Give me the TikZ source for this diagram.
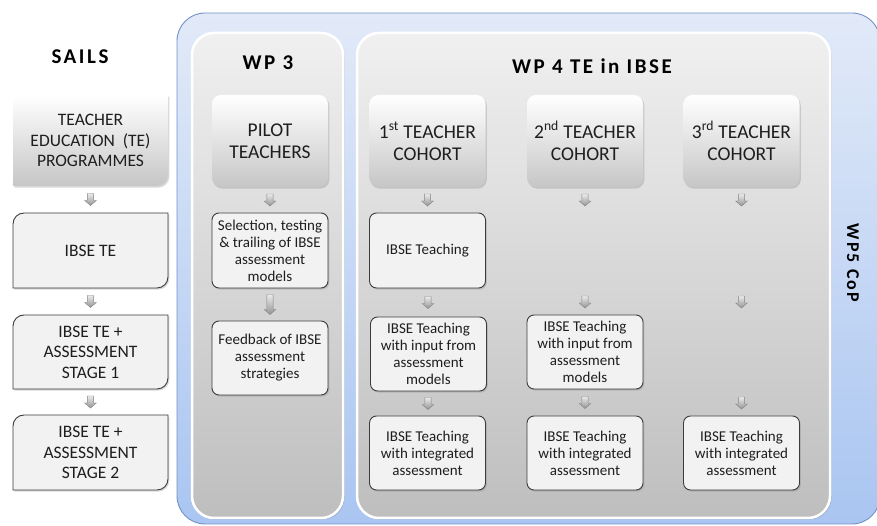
\documentclass[tikz,border=0pt]{standalone}
\usepackage{fontspec}
\setmainfont{Carlito}
\newfontfamily\titlefont[LetterSpace=12]{Carlito}
\usetikzlibrary{shadows,calc,backgrounds}
\definecolor{outerTop}{HTML}{E2EAF8}
\definecolor{outerBot}{HTML}{A9C5F1}
\definecolor{outerLine}{HTML}{7391C9}
\definecolor{panelTop}{HTML}{F0F0F0}
\definecolor{panelBot}{HTML}{BEBEBE}
\definecolor{boxFill}{HTML}{F2F2F2}
\definecolor{boxLine}{HTML}{3C3C3C}
\definecolor{gradBot}{HTML}{C6C6C6}
\definecolor{txt}{HTML}{1E1E1E}
\tikzset{
  bigtxt/.style={font=\fontsize{17.5}{20.5}\selectfont, align=center, text=txt},
  hugetxt/.style={font=\fontsize{19.5}{22}\selectfont, align=center, text=txt},
  smalltxt/.style={font=\fontsize{15}{17}\selectfont, align=center, text=txt},
  softshadow/.style={drop shadow={shadow xshift=1.3pt, shadow yshift=-1.6pt, opacity=0.3}},
  outerbox/.style={rectangle, rounded corners=28pt, top color=outerTop, bottom color=outerBot, draw=outerLine, line width=0.9pt, inner sep=0pt},
  panel/.style={rectangle, rounded corners=22pt, top color=panelTop, bottom color=panelBot, draw=white, line width=2.5pt, inner sep=0pt, drop shadow={shadow xshift=1.5pt, shadow yshift=-1.5pt, opacity=0.35}},
  gradbox/.style={rectangle, rounded corners=9pt, top color=white, bottom color=gradBot, draw=none, softshadow, minimum width=116pt, minimum height=92pt, inner sep=0pt, outer sep=0pt, hugetxt},
  linebox/.style={rectangle, rounded corners=7pt, fill=boxFill, draw=boxLine, line width=0.9pt, softshadow, minimum width=116pt, minimum height=74pt, inner sep=0pt, outer sep=0pt, smalltxt},
  diagtext/.style={rectangle, draw=none, minimum width=155pt, inner sep=0pt, outer sep=0pt, bigtxt},
  diagline/.style={fill=boxFill, draw=boxLine, line width=0.9pt, softshadow},
  diaggrad/.style={top color=white, bottom color=gradBot, softshadow},
  barrow/.style={top color=white!92!black, bottom color=black!42, draw=black!48, line width=0.45pt},
  title/.style={font=\titlefont\bfseries\fontsize{21}{25}\selectfont, anchor=base, text=black},
}
\newcommand\diagshape[3]{%
  \path[#2] ([yshift=-#3]#1.north west) arc[start angle=180,end angle=90,radius=#3]
    -- (#1.north east) -- ([yshift=#3]#1.south east) arc[start angle=0,end angle=-90,radius=#3]
    -- (#1.south west) -- cycle;}
\newcommand\blockarr[2]{%
  \draw[barrow] ([shift={(-3.2,#2)}]#1) -- ([shift={(3.2,#2)}]#1)
    -- ([shift={(3.2,{-#2+5})}]#1) -- ([shift={(5.8,{-#2+5})}]#1)
    -- ([shift={(0,-#2)}]#1) -- ([shift={(-5.8,{-#2+5})}]#1)
    -- ([shift={(-3.2,{-#2+5})}]#1) -- cycle;}
\begin{document}
\begin{tikzpicture}[x=1pt,y=1pt]
\useasboundingbox (0,0) rectangle (877,526);
\begin{scope}[on background layer]
  \fill[white] (0,0) rectangle (877,526);
\end{scope}

% containers
\node[outerbox, minimum width=703pt, minimum height=511pt] (cop) at (528.5,257.5) {};
\node[panel, minimum width=151pt, minimum height=485pt] (wp3) at (267.5,250.5) {};
\node[panel, minimum width=473pt, minimum height=485pt] (wp4) at (593.5,250.5) {};

% titles
\node[title] (tsails) at (80,462) {SAILS};
\node[title] (twp3) at (268,456) {WP 3};
\node[title] (twp4) at (592,452) {WP 4 TE in IBSE};
\node[font=\titlefont\bfseries\fontsize{18}{22}\selectfont, rotate=-90, text=black] (twp5) at (853,263) {WP5 CoP};

% SAILS column
\node[diagtext, minimum height=91pt] (s1) at (90.5,385.5) {TEACHER\\EDUCATION\ \ (TE)\\PROGRAMMES};
\node[diagtext, minimum height=75pt] (s2) at (90.5,275.5) {IBSE TE};
\node[diagtext, minimum height=74pt] (s3) at (90.5,174) {IBSE TE +\\ASSESSMENT\\STAGE 1};
\node[diagtext, minimum height=75pt] (s4) at (90.5,73.5) {IBSE TE +\\ASSESSMENT\\STAGE 2};
\begin{scope}[on background layer]
  \diagshape{s1}{diaggrad}{11pt}
  \diagshape{s2}{diagline}{11pt}
  \diagshape{s3}{diagline}{11pt}
  \diagshape{s4}{diagline}{11pt}
\end{scope}

% WP3 column
\node[gradbox] (p1) at (270,385) {PILOT\\TEACHERS};
\node[linebox, minimum height=75pt] (p2) at (270,275.5) {Selection, testing\\\& trailing of IBSE\\assessment\\models};
\node[linebox] (p3) at (270,168) {Feedback of IBSE\\assessment\\strategies};

% WP4 columns
\node[gradbox] (k1) at (427.5,385) {1\textsuperscript{st} TEACHER\\COHORT};
\node[gradbox] (k2) at (585,385) {2\textsuperscript{nd} TEACHER\\COHORT};
\node[gradbox] (k3) at (741.5,385) {3\textsuperscript{rd} TEACHER\\COHORT};
\node[linebox, minimum height=75pt] (t1) at (427.5,275.5) {IBSE Teaching};
\node[linebox] (in1) at (428.5,172) {IBSE Teaching\\with input from\\assessment\\models};
\node[linebox] (in2) at (585,174) {IBSE Teaching\\with input from\\assessment\\models};
\node[linebox] (bt1) at (427.5,73) {IBSE Teaching\\with integrated\\assessment};
\node[linebox] (bt2) at (585,73) {IBSE Teaching\\with integrated\\assessment};
\node[linebox] (bt3) at (741.5,73) {IBSE Teaching\\with integrated\\assessment};

% arrow positions
\coordinate (as1) at ($(s1.south)!0.5!(s2.north)$);
\coordinate (as2) at ($(s2.south)!0.5!(s3.north)$);
\coordinate (as3) at ($(s3.south)!0.5!(s4.north)$);
\coordinate (ap1) at ($(p1.south)!0.5!(p2.north)$);
\coordinate (ap2) at ($(p2.south)!0.5!(p3.north)$);
\coordinate (ak1) at ($(k1.south)!0.5!(t1.north)$);
\coordinate (at1) at ($(t1.south)!0.5!(in1.north)$);
\coordinate (ai1) at ($(in1.south)!0.5!(bt1.north)$);
\coordinate (ak2) at ($(k2.south)+(0,-13)$);
\coordinate (ap2b) at ($(in2.north)+(0,13)$);
\coordinate (ai2) at ($(in2.south)!0.5!(bt2.north)$);
\coordinate (ak3) at ($(k3.south)+(0,-13)$);
\coordinate (am3) at ($(k3.south)+(0,-115)$);
\coordinate (ai3) at ($(bt3.north)+(0,13)$);

\foreach \c in {as1,as2,as3,ap1,ak1,at1,ai1,ak2,ap2b,ai2,ak3,am3,ai3}{\blockarr{\c}{6}}
\blockarr{ap2}{10}
\end{tikzpicture}
\end{document}
